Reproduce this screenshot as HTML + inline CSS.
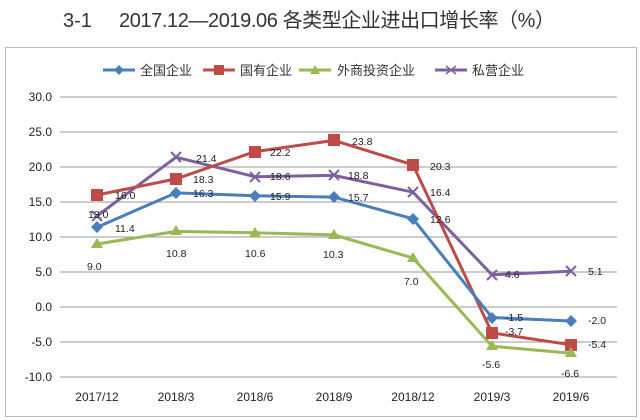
<!DOCTYPE html>
<html><head><meta charset="utf-8"><style>
body{margin:0;background:#fff;}
svg{display:block;font-family:"Liberation Sans","Noto Sans CJK SC",sans-serif;}
</style></head><body>
<svg width="640" height="420" viewBox="0 0 640 420">
<text x="63" y="27" font-size="20" fill="#333">3-1</text>
<text x="119" y="27" font-size="20" fill="#333" textLength="436">2017.12—2019.06 各类型企业进出口增长率（%）</text>
<rect x="5.5" y="47.5" width="631" height="369" fill="#fff" stroke="#bbb"/>
<g stroke="#999" stroke-width="1">
<line x1="60" y1="97" x2="617" y2="97"/><line x1="60" y1="132" x2="617" y2="132"/>
<line x1="60" y1="167" x2="617" y2="167"/><line x1="60" y1="202" x2="617" y2="202"/>
<line x1="60" y1="237" x2="617" y2="237"/><line x1="60" y1="272" x2="617" y2="272"/>
<line x1="60" y1="307" x2="617" y2="307"/><line x1="60" y1="342" x2="617" y2="342"/>
<line x1="60" y1="377" x2="617" y2="377"/>
</g>
<g font-size="12" fill="#222" text-anchor="end">
<text x="52" y="101">30.0</text><text x="52" y="136">25.0</text><text x="52" y="171">20.0</text>
<text x="52" y="206">15.0</text><text x="52" y="241">10.0</text><text x="52" y="276">5.0</text>
<text x="52" y="311">0.0</text><text x="52" y="346">-5.0</text><text x="52" y="381">-10.0</text>
</g>
<g font-size="12" fill="#222" text-anchor="middle">
<text x="97" y="401">2017/12</text><text x="176" y="401">2018/3</text><text x="255" y="401">2018/6</text>
<text x="334" y="401">2018/9</text><text x="413" y="401">2018/12</text><text x="492" y="401">2019/3</text><text x="571" y="401">2019/6</text>
</g>
<g font-size="13" fill="#333">
<line x1="103" y1="70" x2="135" y2="70" stroke="#4a7ebb" stroke-width="3"/><path d="M119 65 L124 70 L119 75 L114 70Z" fill="#4a7ebb"/><text x="140" y="75">全国企业</text>
<line x1="203" y1="70" x2="235" y2="70" stroke="#be4b48" stroke-width="3"/><rect x="214" y="65" width="10" height="10" fill="#be4b48"/><text x="240" y="75">国有企业</text>
<line x1="299" y1="70" x2="331" y2="70" stroke="#98b954" stroke-width="3"/><path d="M315 65 L320 74 L310 74Z" fill="#98b954"/><text x="337" y="75">外商投资企业</text>
<line x1="435" y1="70" x2="467" y2="70" stroke="#7d60a0" stroke-width="3"/><path d="M446 66 L456 74 M456 66 L446 74" stroke="#7d60a0" stroke-width="1.5"/><text x="472" y="75">私营企业</text>
</g>
<polyline fill="none" stroke="#7d60a0" stroke-width="3" points="97,216 176,157.2 255,176.8 334,175.4 413,192.2 492,274.8 571,271.3"/>
<polyline fill="none" stroke="#be4b48" stroke-width="3" points="97,195 176,178.9 255,151.6 334,140.4 413,164.9 492,332.9 571,344.8"/>
<polyline fill="none" stroke="#4a7ebb" stroke-width="3" points="97,227.2 176,192.9 255,195.7 334,197.1 413,218.8 492,317.5 571,321"/>
<polyline fill="none" stroke="#98b954" stroke-width="3" points="97,244 176,231.4 255,232.8 334,234.9 413,258 492,346.2 571,353.2"/>
<g stroke="#7d60a0" stroke-width="2">
<path d="M92 211l10 10M102 211l-10 10M171 152l10 10M181 152l-10 10M250 172l10 10M260 172l-10 10M329 170l10 10M339 170l-10 10M408 187l10 10M418 187l-10 10M487 270l10 10M497 270l-10 10M566 266l10 10M576 266l-10 10"/>
</g>
<g fill="#be4b48">
<rect x="91" y="189" width="12" height="12"/><rect x="170" y="173" width="12" height="12"/><rect x="249" y="146" width="12" height="12"/><rect x="328" y="134" width="12" height="12"/><rect x="407" y="159" width="12" height="12"/><rect x="486" y="327" width="12" height="12"/><rect x="565" y="339" width="12" height="12"/>
</g>
<g fill="#4a7ebb">
<path d="M97 221l6 6-6 6-6-6z M176 187l6 6-6 6-6-6z M255 190l6 6-6 6-6-6z M334 191l6 6-6 6-6-6z M413 213l6 6-6 6-6-6z M492 312l6 6-6 6-6-6z M571 315l6 6-6 6-6-6z"/>
</g>
<g fill="#98b954">
<path d="M97 238l6 10h-12z M176 225l6 10h-12z M255 227l6 10h-12z M334 229l6 10h-12z M413 252l6 10h-12z M492 340l6 10h-12z M571 347l6 10h-12z"/>
</g>
<g font-size="10.5" fill="#222">
<text x="88" y="218">13.0</text><text x="115" y="199">16.0</text><text x="115" y="232">11.4</text><text x="87" y="270">9.0</text>
<text x="196" y="162">21.4</text><text x="193" y="183">18.3</text><text x="193" y="197">16.3</text><text x="166" y="257">10.8</text>
<text x="270" y="156">22.2</text><text x="270" y="180">18.6</text><text x="270" y="200">15.9</text><text x="245" y="257">10.6</text>
<text x="352" y="145">23.8</text><text x="348" y="179">18.8</text><text x="348" y="201">15.7</text><text x="323" y="258">10.3</text>
<text x="430" y="170">20.3</text><text x="430" y="196">16.4</text><text x="430" y="223">12.6</text><text x="404" y="285">7.0</text>
<text x="505" y="278">4.6</text><text x="505" y="321">-1.5</text><text x="505" y="335">-3.7</text><text x="482" y="368">-5.6</text>
<text x="588" y="275">5.1</text><text x="588" y="324">-2.0</text><text x="588" y="348">-5.4</text><text x="561" y="377">-6.6</text>
</g>
</svg>
</body></html>
